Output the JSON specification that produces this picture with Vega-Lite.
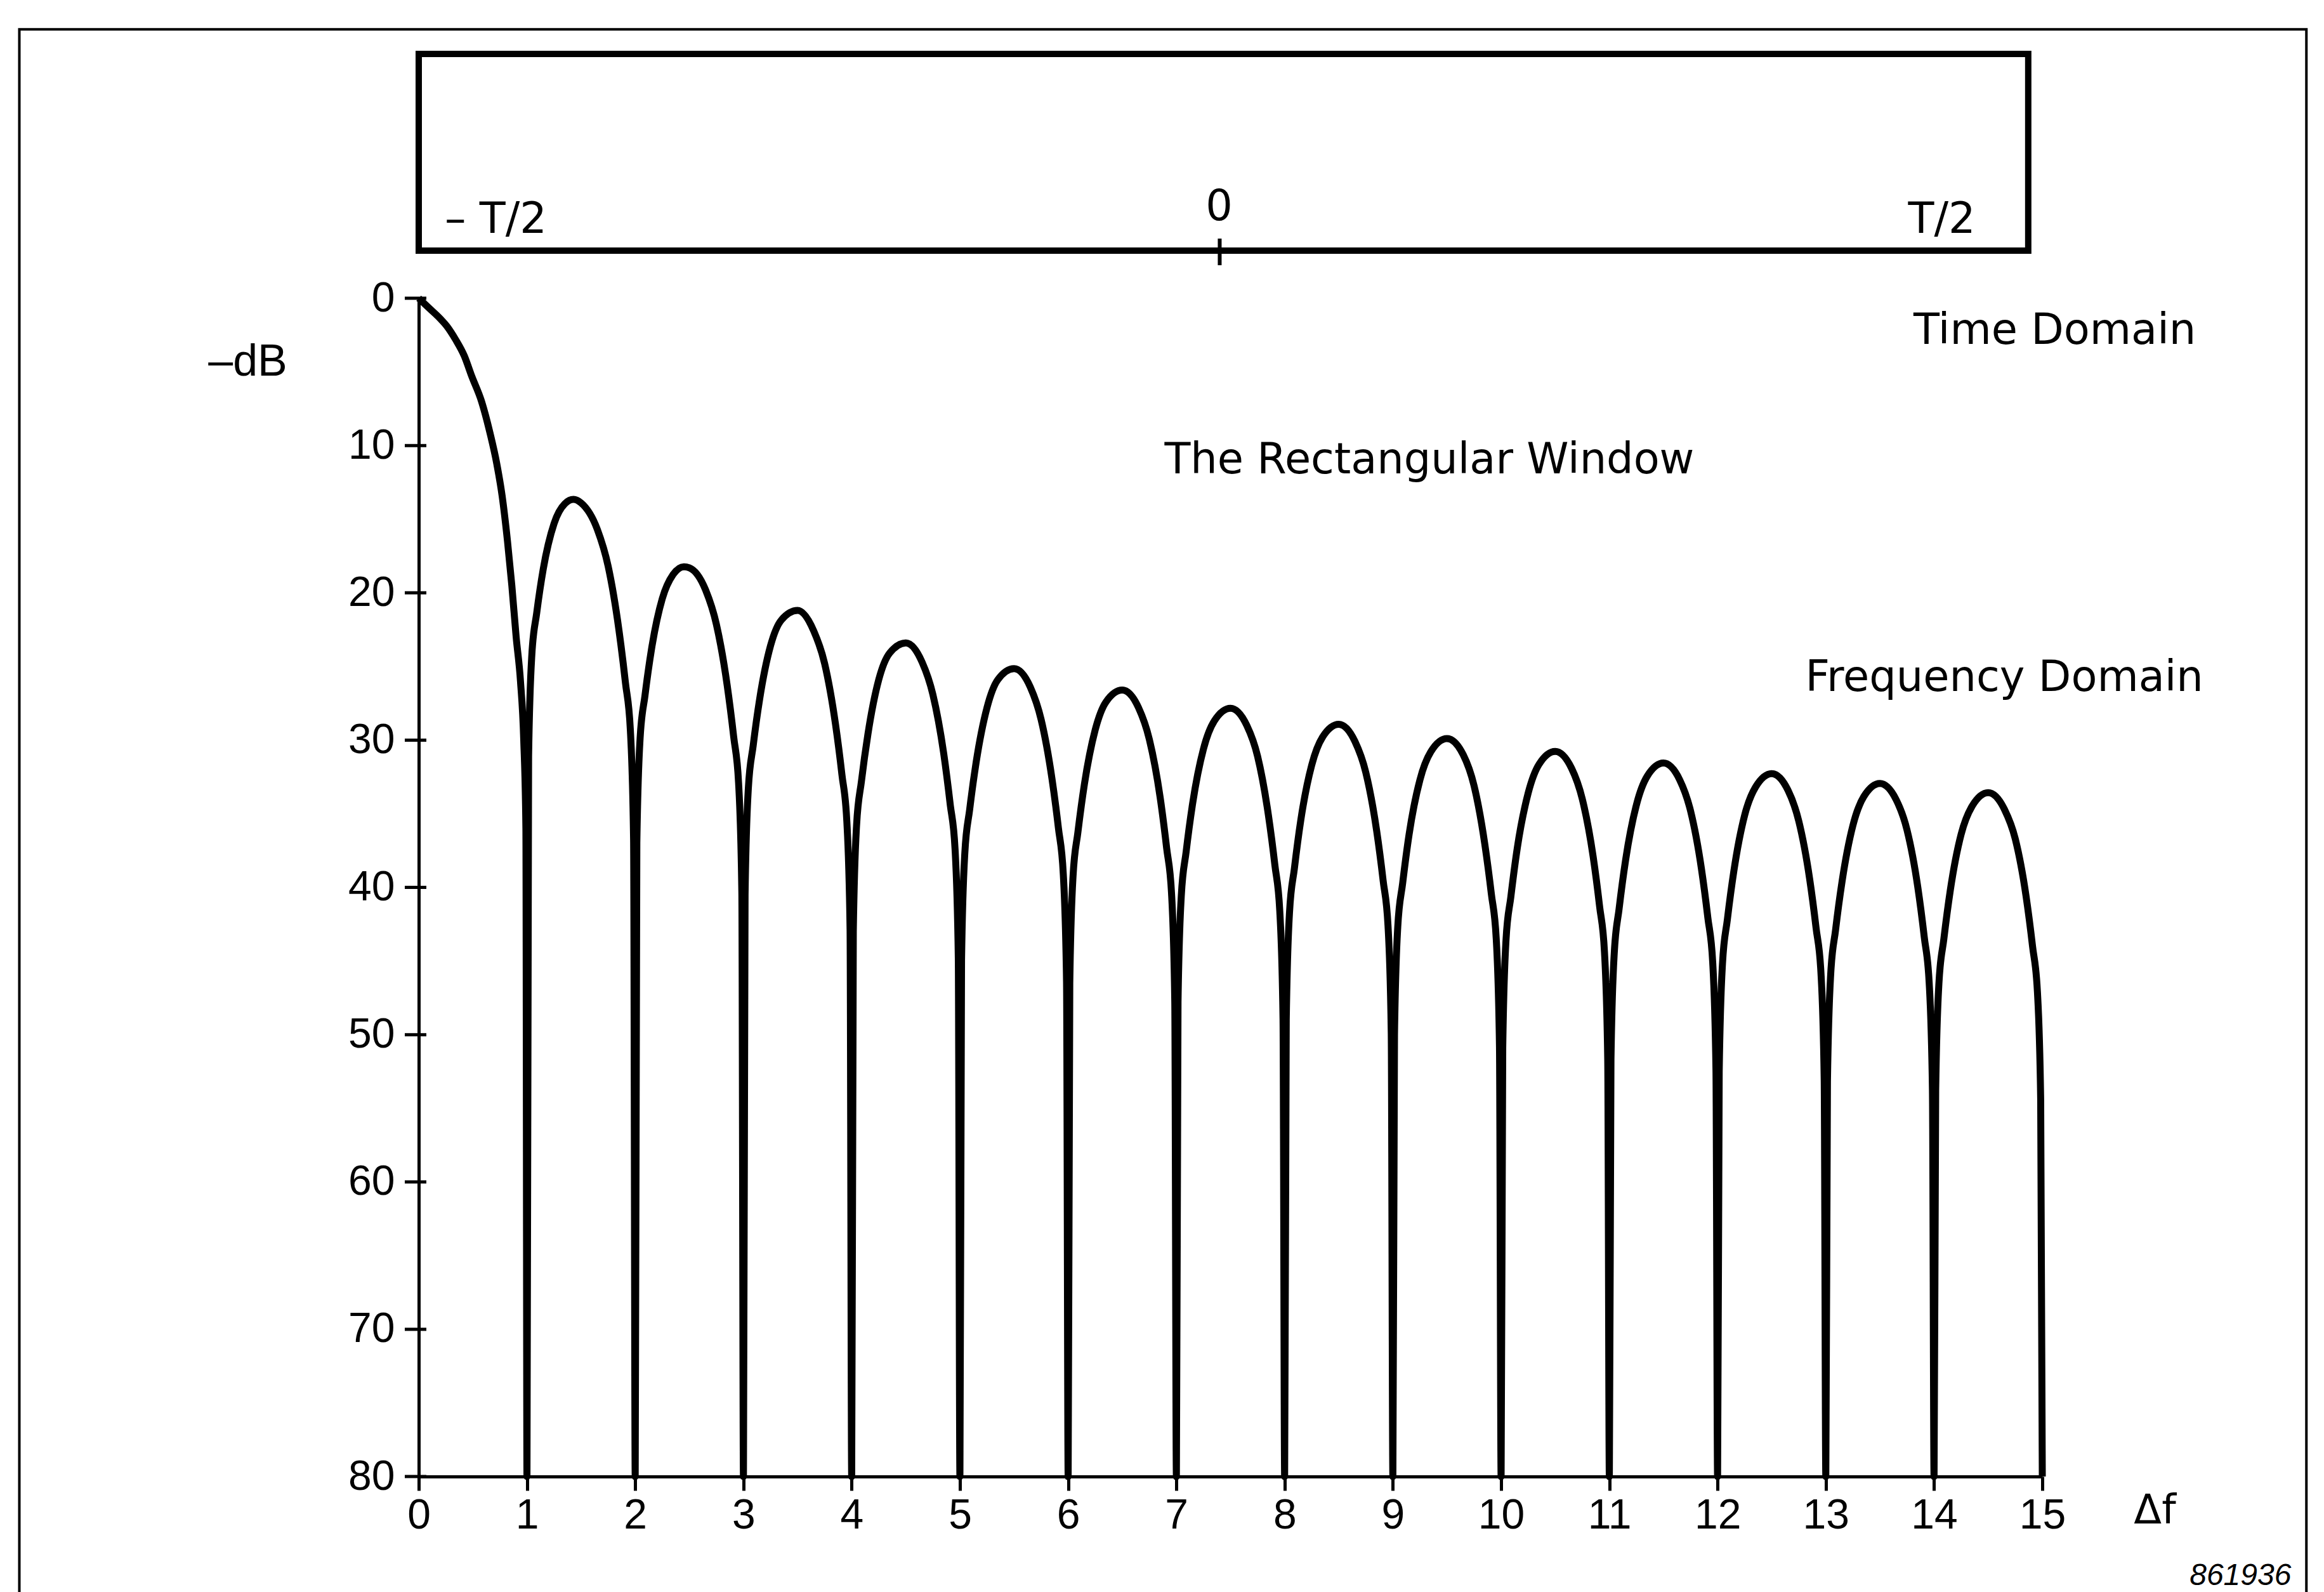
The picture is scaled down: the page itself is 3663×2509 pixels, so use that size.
{
"$schema": "https://vega.github.io/schema/vega-lite/v6.json",
"width": 2559,
"height": 1857,
"autosize": {"type": "none"},
"padding": {"left": 660, "top": 470, "right": 444, "bottom": 182},
"background": "white",
"config": {"view": {"stroke": null}, "axis": {"grid": false}},
"datasets": {
"frame": [{"f": -3.69, "f2": 17.44, "dB": -18.25, "dB2": 92}],
"window": [{"f": 0, "f2": 14.87, "dB": -16.59, "dB2": -3.23}],
"marker": [{"f": 7.40, "dB": -4.05, "dB2": -2.24}],
"ticks": [{"f":0,"dB":0},{"f":0,"dB":10},{"f":0,"dB":20},{"f":0,"dB":30},{"f":0,"dB":40},{"f":0,"dB":50},{"f":0,"dB":60},{"f":0,"dB":70},{"f":0,"dB":80}],
"labels": [
{"f":0.24,"dB":-4.44,"label":"– T/2"},
{"f":7.27,"dB":-5.30,"label":"0"},
{"f":13.76,"dB":-4.44,"label":"T/2"},
{"f":13.81,"dB":3.10,"label":"Time Domain"},
{"f":6.89,"dB":11.89,"label":"The Rectangular Window"},
{"f":12.81,"dB":26.67,"label":"Frequency Domain"}
],
"code": [{"f":17.30,"dB":87.35,"label":"861936"}],
"spectrum": [
{"f":0,"dB":0},{"f":0.1,"dB":0.7},{"f":0.2,"dB":1.4},{"f":0.26,"dB":1.9},{"f":0.34,"dB":2.8},{"f":0.42,"dB":3.9},{"f":0.49,"dB":5.3},{"f":0.58,"dB":7.0},{"f":0.66,"dB":9.2},{"f":0.72,"dB":11.2},{"f":0.77,"dB":13.4},{"f":0.82,"dB":16.5},{"f":0.86,"dB":19.5},{"f":0.9,"dB":23.0},{"f":0.94,"dB":26.0},{"f":0.97,"dB":30.0},{"f":0.99,"dB":36.0},{"f":1,"dB":80},
{"f":1.015,"dB":31.1},{"f":1.045,"dB":24.2},{"f":1.09,"dB":21.37},{"f":1.15,"dB":18.4},{"f":1.25,"dB":15.3},{"f":1.35,"dB":13.95},{"f":1.43,"dB":13.66},{"f":1.5,"dB":13.9},{"f":1.65,"dB":15.7},{"f":1.75,"dB":18.2},{"f":1.85,"dB":22.55},{"f":1.91,"dB":26.12},{"f":1.955,"dB":29.3},{"f":1.985,"dB":36.8},{"f":2,"dB":80},
{"f":2.015,"dB":37.0},{"f":2.045,"dB":29.9},{"f":2.09,"dB":26.99},{"f":2.15,"dB":23.85},{"f":2.25,"dB":20.4},{"f":2.35,"dB":18.76},{"f":2.45,"dB":18.23},{"f":2.5,"dB":18.3},{"f":2.65,"dB":19.8},{"f":2.75,"dB":22.14},{"f":2.85,"dB":26.3},{"f":2.91,"dB":29.79},{"f":2.955,"dB":32.9},{"f":2.985,"dB":40.3},{"f":3,"dB":80},
{"f":3.015,"dB":40.5},{"f":3.045,"dB":33.3},{"f":3.09,"dB":30.37},{"f":3.15,"dB":27.2},{"f":3.25,"dB":23.6},{"f":3.35,"dB":21.85},{"f":3.5,"dB":21.2},{"f":3.65,"dB":22.6},{"f":3.75,"dB":24.8},{"f":3.85,"dB":28.9},{"f":3.91,"dB":32.36},{"f":3.955,"dB":35.5},{"f":3.985,"dB":42.85},{"f":4,"dB":80},
{"f":4.015,"dB":43.0},{"f":4.045,"dB":35.8},{"f":4.09,"dB":32.8},{"f":4.15,"dB":29.6},{"f":4.25,"dB":25.9},{"f":4.35,"dB":24.1},{"f":4.5,"dB":23.4},{"f":4.65,"dB":24.7},{"f":4.75,"dB":26.9},{"f":4.85,"dB":30.9},{"f":4.91,"dB":34.35},{"f":4.955,"dB":37.4},{"f":4.985,"dB":44.8},{"f":5,"dB":80},
{"f":5.015,"dB":44.9},{"f":5.045,"dB":37.7},{"f":5.09,"dB":34.72},{"f":5.15,"dB":31.5},{"f":5.25,"dB":27.8},{"f":5.35,"dB":25.9},{"f":5.5,"dB":25.15},{"f":5.65,"dB":26.4},{"f":5.75,"dB":28.6},{"f":5.85,"dB":32.6},{"f":5.91,"dB":35.98},{"f":5.955,"dB":39.1},{"f":5.985,"dB":46.4},{"f":6,"dB":80},
{"f":6.015,"dB":46.5},{"f":6.045,"dB":39.25},{"f":6.09,"dB":36.26},{"f":6.15,"dB":33.0},{"f":6.25,"dB":29.3},{"f":6.35,"dB":27.4},{"f":6.5,"dB":26.6},{"f":6.65,"dB":27.8},{"f":6.75,"dB":29.95},{"f":6.85,"dB":33.9},{"f":6.91,"dB":37.34},{"f":6.955,"dB":40.4},{"f":6.985,"dB":47.8},{"f":7,"dB":80},
{"f":7.015,"dB":47.8},{"f":7.045,"dB":40.6},{"f":7.09,"dB":37.58},{"f":7.15,"dB":34.3},{"f":7.25,"dB":30.6},{"f":7.35,"dB":28.7},{"f":7.5,"dB":27.84},{"f":7.65,"dB":29.0},{"f":7.75,"dB":31.1},{"f":7.85,"dB":35.1},{"f":7.91,"dB":38.5},{"f":7.955,"dB":41.6},{"f":7.985,"dB":48.9},{"f":8,"dB":80},
{"f":8.015,"dB":49.0},{"f":8.045,"dB":41.7},{"f":8.09,"dB":38.72},{"f":8.15,"dB":35.4},{"f":8.25,"dB":31.7},{"f":8.35,"dB":29.8},{"f":8.5,"dB":28.93},{"f":8.65,"dB":30.1},{"f":8.75,"dB":32.2},{"f":8.85,"dB":36.15},{"f":8.91,"dB":39.54},{"f":8.955,"dB":42.6},{"f":8.985,"dB":49.9},{"f":9,"dB":80},
{"f":9.015,"dB":50.0},{"f":9.045,"dB":42.7},{"f":9.09,"dB":39.74},{"f":9.15,"dB":36.4},{"f":9.25,"dB":32.7},{"f":9.35,"dB":30.8},{"f":9.5,"dB":29.9},{"f":9.65,"dB":31.0},{"f":9.75,"dB":33.1},{"f":9.85,"dB":37.1},{"f":9.91,"dB":40.46},{"f":9.955,"dB":43.5},{"f":9.985,"dB":50.9},{"f":10,"dB":80},
{"f":10.015,"dB":50.9},{"f":10.045,"dB":43.6},{"f":10.09,"dB":40.64},{"f":10.15,"dB":37.3},{"f":10.25,"dB":33.6},{"f":10.35,"dB":31.65},{"f":10.5,"dB":30.77},{"f":10.65,"dB":31.9},{"f":10.75,"dB":34.0},{"f":10.85,"dB":37.9},{"f":10.91,"dB":41.3},{"f":10.955,"dB":44.4},{"f":10.985,"dB":51.7},{"f":11,"dB":80},
{"f":11.015,"dB":51.7},{"f":11.045,"dB":44.5},{"f":11.09,"dB":41.46},{"f":11.15,"dB":38.15},{"f":11.25,"dB":34.4},{"f":11.35,"dB":32.45},{"f":11.5,"dB":31.56},{"f":11.65,"dB":32.7},{"f":11.75,"dB":34.8},{"f":11.85,"dB":38.7},{"f":11.91,"dB":42.06},{"f":11.955,"dB":45.1},{"f":11.985,"dB":52.45},{"f":12,"dB":80},
{"f":12.015,"dB":52.5},{"f":12.045,"dB":45.2},{"f":12.09,"dB":42.2},{"f":12.15,"dB":38.9},{"f":12.25,"dB":35.1},{"f":12.35,"dB":33.2},{"f":12.5,"dB":32.28},{"f":12.65,"dB":33.4},{"f":12.75,"dB":35.5},{"f":12.85,"dB":39.4},{"f":12.91,"dB":42.76},{"f":12.955,"dB":45.8},{"f":12.985,"dB":53.1},{"f":13,"dB":80},
{"f":13.015,"dB":53.2},{"f":13.045,"dB":45.9},{"f":13.09,"dB":42.89},{"f":13.15,"dB":39.6},{"f":13.25,"dB":35.8},{"f":13.35,"dB":33.85},{"f":13.5,"dB":32.95},{"f":13.65,"dB":34.05},{"f":13.75,"dB":36.1},{"f":13.85,"dB":40.0},{"f":13.91,"dB":43.41},{"f":13.955,"dB":46.5},{"f":13.985,"dB":53.8},{"f":14,"dB":80},
{"f":14.015,"dB":53.8},{"f":14.045,"dB":46.5},{"f":14.09,"dB":43.53},{"f":14.15,"dB":40.2},{"f":14.25,"dB":36.4},{"f":14.35,"dB":34.5},{"f":14.5,"dB":33.57},{"f":14.65,"dB":34.7},{"f":14.75,"dB":36.7},{"f":14.85,"dB":40.6},{"f":14.91,"dB":44.01},{"f":14.955,"dB":47.1},{"f":14.985,"dB":54.4},{"f":15,"dB":80}
]
},
"encoding": {
"x": {"field": "f", "type": "quantitative",
 "scale": {"domain": [0, 15], "nice": false, "zero": false},
 "axis": {"values": [0,1,2,3,4,5,6,7,8,9,10,11,12,13,14,15], "format": "d",
  "title": "Δf", "titleFont": "DejaVu Sans", "titleFontSize": 64, "titleFontWeight": "normal", "titleColor": "black",
  "titleX": 2736, "titleY": 54, "titleAlign": "center", "titleBaseline": "middle", "titleAngle": 0,
  "labelFont": "Liberation Sans", "labelFontSize": 66, "labelColor": "black", "labelPadding": 7,
  "labelFlush": false, "labelOverlap": false,
  "tickSize": 22, "tickWidth": 5, "tickColor": "black", "domainColor": "black", "domainWidth": 5}},
"y": {"field": "dB", "type": "quantitative",
 "scale": {"domain": [0, 80], "nice": false, "reverse": true, "zero": false},
 "axis": {"values": [0,10,20,30,40,50,60,70,80], "format": "d",
  "title": "–dB", "titleFont": "Liberation Sans", "titleFontSize": 70, "titleFontWeight": "normal", "titleColor": "black",
  "titleX": -270, "titleY": 100, "titleAlign": "center", "titleBaseline": "middle", "titleAngle": 0,
  "labelFont": "Liberation Sans", "labelFontSize": 66, "labelColor": "black", "labelPadding": 38,
  "labelFlush": false, "labelOverlap": false,
  "ticks": false, "domainColor": "black", "domainWidth": 5}}
},
"layer": [
{"data": {"name": "frame"}, "mark": {"type": "rect", "fillOpacity": 0, "stroke": "black", "strokeWidth": 4},
 "encoding": {"x2": {"field": "f2"}, "y2": {"field": "dB2"}}},
{"data": {"name": "window"}, "mark": {"type": "rect", "fillOpacity": 0, "stroke": "black", "strokeWidth": 10},
 "encoding": {"x2": {"field": "f2"}, "y2": {"field": "dB2"}}},
{"data": {"name": "marker"}, "mark": {"type": "rule", "stroke": "black", "strokeWidth": 6},
 "encoding": {"y2": {"field": "dB2"}}},
{"data": {"name": "ticks"}, "mark": {"type": "tick", "orient": "horizontal", "size": 34, "thickness": 5, "xOffset": -5, "color": "black", "opacity": 1}},
{"data": {"name": "spectrum"}, "mark": {"type": "line", "interpolate": "monotone", "strokeWidth": 11, "color": "black", "strokeJoin": "round"}},
{"data": {"name": "labels"}, "mark": {"type": "text", "font": "DejaVu Sans", "fontSize": 67, "align": "left", "baseline": "alphabetic", "color": "black"},
 "encoding": {"text": {"field": "label"}}},
{"data": {"name": "code"}, "mark": {"type": "text", "font": "Liberation Sans", "fontStyle": "italic", "fontSize": 48, "align": "right", "baseline": "alphabetic", "color": "black"},
 "encoding": {"text": {"field": "label"}}}
]
}
